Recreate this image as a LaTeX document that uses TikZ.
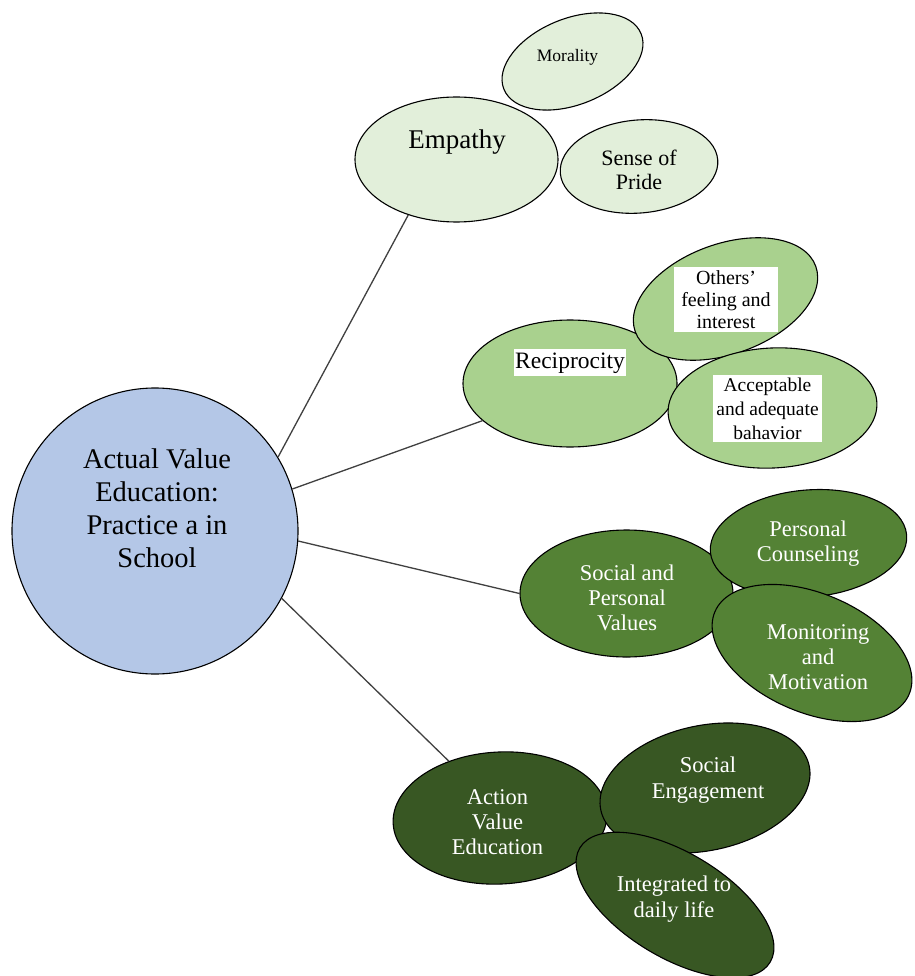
\documentclass[tikz,border=0pt]{standalone}
\usepackage{fontspec}
\setmainfont{Liberation Serif}
\usetikzlibrary{shapes.geometric}
\definecolor{cMain}{HTML}{B4C7E7}
\definecolor{cEmp}{HTML}{E2EFDA}
\definecolor{cRec}{HTML}{A9D18E}
\definecolor{cSoc}{HTML}{548235}
\definecolor{cAct}{HTML}{385723}
\definecolor{cLine}{HTML}{404040}
\begin{document}
\begin{tikzpicture}[x=1pt,y=-1pt,
  bub/.style={ellipse,draw=black,line width=1.1pt,inner sep=0pt},
  conn/.style={draw=cLine,line width=1.3pt},
  txt/.style={align=center,inner sep=0pt},
  wtxt/.style={align=center,inner sep=0pt,text=white},
  fs/.style={font=\fontsize{22.5}{25}\selectfont}]
\useasboundingbox (0,0) rectangle (914,976);
\fill[white] (0,0) rectangle (914,976);

% central node
\node[circle,draw=black,line width=1.1pt,fill=cMain,minimum size=286pt,inner sep=0pt] (main) at (155,531) {};
\node[txt,font=\fontsize{28.5}{33}\selectfont] (tMain) at (157,508) {Actual Value\\Education:\\Practice a in\\School};

% Empathy group
\node[bub,fill=cEmp,minimum width=148pt,minimum height=86pt,rotate=22] (mor) at (572.5,61.5) {};
\node[bub,fill=cEmp,minimum width=158pt,minimum height=93pt,rotate=5] (pride) at (639,166.5) {};
\node[bub,fill=cEmp,minimum width=203pt,minimum height=125pt] (emp) at (456.5,159.5) {};
\node[txt,font=\fontsize{27}{30}\selectfont,anchor=base] (tEmp) at (457,149) {Empathy};
\node[txt,font=\fontsize{17.5}{20}\selectfont,anchor=base] (tMor) at (567.5,62) {Morality};
\node[txt,font=\fontsize{22}{24}\selectfont] (tPride) at (639,170) {Sense of\\Pride};

% Reciprocity group
\node[bub,fill=cRec,minimum width=214pt,minimum height=127pt] (rec) at (570,383.5) {};
\node[bub,fill=cRec,minimum width=192pt,minimum height=110pt,rotate=20] (oth) at (725.5,299) {};
\node[bub,fill=cRec,minimum width=209pt,minimum height=120pt,rotate=3] (acc) at (772.5,408) {};
\node[txt,fill=white,font=\fontsize{23.5}{26}\selectfont,anchor=base,inner xsep=1pt,inner ysep=3pt] (tRec) at (570,368) {Reciprocity};
\node[txt,fill=white,font=\fontsize{20}{22}\selectfont,minimum width=104pt,minimum height=65pt] (tOth) at (726,299.5) {Others'\\feeling and\\interest};
\node[txt,fill=white,font=\fontsize{19.5}{24}\selectfont,minimum width=109pt,minimum height=67pt] (tAcc) at (767.5,408.5) {Acceptable\\and adequate\\bahavior};

% Social and Personal Values group
\node[bub,fill=cSoc,minimum width=213pt,minimum height=127pt] (soc) at (626.5,593.5) {};
\node[bub,fill=cSoc,minimum width=197pt,minimum height=107pt,rotate=5] (coun) at (808.5,543.5) {};
\node[bub,fill=cSoc,minimum width=211pt,minimum height=119pt,rotate=-23] (mon) at (812,653) {};
\node[wtxt,fs] (tSoc) at (627,598) {Social and\\Personal\\Values};
\node[wtxt,font=\fontsize{22.5}{25}\selectfont] (tCoun) at (808,544) {Personal\\Counseling};
\node[wtxt,fs] (tMon) at (818,657) {Monitoring\\and\\Motivation};

% Action Value Education group
\node[bub,fill=cAct,minimum width=214pt,minimum height=132pt,rotate=3] (act) at (500,818) {};
\node[bub,fill=cAct,minimum width=213pt,minimum height=125pt,rotate=12] (eng) at (705,788) {};
\node[bub,fill=cAct,minimum width=222pt,minimum height=105pt,rotate=-31] (integ) at (675,905) {};
\node[wtxt,fs] (tAct) at (497.5,822) {Action\\Value\\Education};
\node[wtxt,font=\fontsize{22.5}{26}\selectfont] (tEng) at (708,780) {Social\\Engagement};
\node[wtxt,font=\fontsize{22.5}{26}\selectfont] (tInt) at (674,899) {Integrated to\\daily life};

% connectors
\draw[conn] (main.31) -- (emp.-131);
\draw[conn] (main.17) -- (rec.-157);
\draw[conn] (main.-4) -- (soc.180);
\draw[conn] (main.-28) -- (act.129);
\end{tikzpicture}
\end{document}
